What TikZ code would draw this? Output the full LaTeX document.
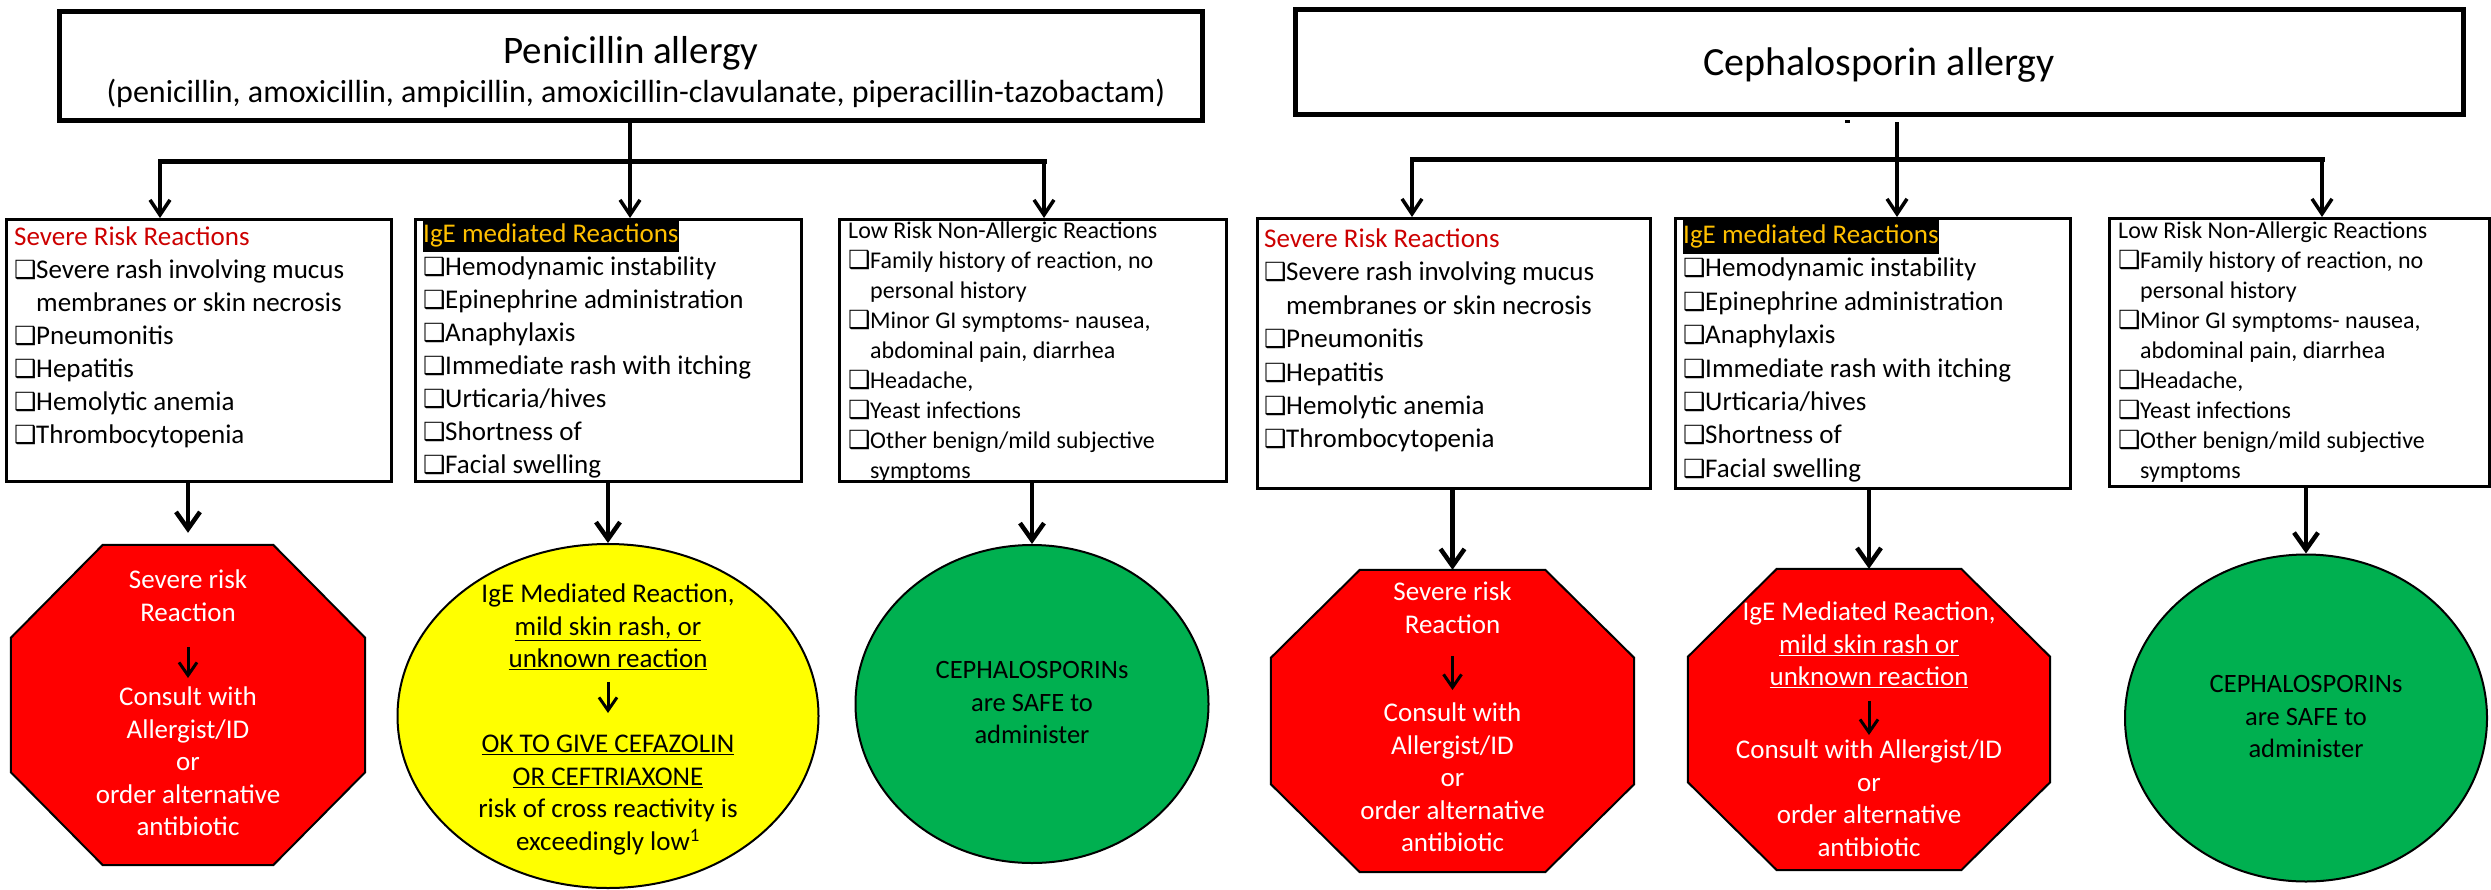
\documentclass[tikz,border=0pt]{standalone}
\usepackage{fontspec}
\setmainfont{Carlito}
\newfontfamily\dejavu{DejaVu Sans}
\usetikzlibrary{arrows.meta,shapes.geometric}
\definecolor{sevred}{RGB}{204,0,0}
\definecolor{igeorange}{RGB}{255,192,0}
\definecolor{octred}{RGB}{255,0,0}
\definecolor{ylw}{RGB}{255,255,0}
\definecolor{grn}{RGB}{0,176,80}
\setlength{\fboxsep}{0pt}
\newcommand\cbx{\makebox[22pt][l]{{\dejavu\fontsize{25}{25}\selectfont ❑}}}
\newcommand\ind{\hspace*{22pt}}
\newcommand\octo[3]{\draw[octline] ([xshift=#2]#1.north west) -- ([xshift=-#2]#1.north east) -- ([yshift=-#3]#1.north east) -- ([yshift=#3]#1.south east) -- ([xshift=-#2]#1.south east) -- ([xshift=#2]#1.south west) -- ([yshift=#3]#1.south west) -- ([yshift=-#3]#1.north west) -- cycle;}
\begin{document}
\begin{tikzpicture}[x=1pt,y=-1pt,
  hdr/.style={draw, line width=5pt, inner sep=0pt, anchor=north west},
  rbox/.style={draw, line width=2.5pt, inner sep=0pt, anchor=north west},
  lst/.style={anchor=north west, inner sep=0pt, align=left, font=\fontsize{27}{#1}\selectfont},
  lst/.default=33,
  lstlow/.style={anchor=north west, inner sep=0pt, align=left, font=\fontsize{24}{30}\selectfont},
  trunk/.style={line width=3.5pt},
  barline/.style={line width=5pt, line cap=rect},
  toparr/.style={line width=3.5pt, -{Straight Barb[length=15pt,width=20pt]}},
  botarr/.style={line width=4.5pt, -{Straight Barb[length=17pt,width=24pt]}},
  inarr/.style={line width=3pt, -{Straight Barb[length=13pt,width=18pt]}},
  octbox/.style={inner sep=0pt, draw=none},
  octline/.style={draw=black, line width=2pt, fill=octred, line join=miter},
  octtxt/.style={anchor=north, inner sep=0pt, align=center, text=white, font=\fontsize{27}{32.5}\selectfont},
  ellbox/.style={ellipse, draw=black, line width=2pt, inner sep=0pt},
  elltxt/.style={anchor=north, inner sep=0pt, align=center, text=black, font=\fontsize{27}{32.5}\selectfont},
  grntxt/.style={anchor=north, inner sep=0pt, align=center, text=black, font=\fontsize{26.5}{32.5}\selectfont}
]
\useasboundingbox (0,0) rectangle (2491,889);

% ---------- headers ----------
\node[hdr, minimum width=1143pt, minimum height=109pt] (pen) at (57,9) {};
\node[anchor=base, inner sep=0pt, font=\fontsize{39}{41}\selectfont] (pentitle) at (631,63) {Penicillin allergy};
\node[anchor=base, inner sep=0pt, font=\fontsize{32}{34}\selectfont] (pensub) at (636,102) {(penicillin, amoxicillin, ampicillin, amoxicillin-clavulanate, piperacillin-tazobactam)};

\node[hdr, minimum width=1168pt, minimum height=105pt] (ceph) at (1293,7) {};
\node[anchor=base, inner sep=0pt, font=\fontsize{40}{42}\selectfont] (cephtitle) at (1879,75) {Cephalosporin allergy};
\fill (1845,119.5) rectangle (1849.5,122.5);

% ---------- reaction boxes ----------
\node[rbox, minimum width=385pt, minimum height=262pt] (box1) at (5,218) {};
\node[rbox, minimum width=386pt, minimum height=262pt] (box2) at (414,218) {};
\node[rbox, minimum width=387pt, minimum height=262pt] (box3) at (838,218) {};
\node[rbox, minimum width=393pt, minimum height=270pt] (box4) at (1256,217) {};
\node[rbox, minimum width=395pt, minimum height=270pt] (box5) at (1674,217) {};
\node[rbox, minimum width=380pt, minimum height=268pt] (box6) at (2108,217) {};

\node[lst] (t1) at (14,222) {\strut\textcolor{sevred}{Severe Risk Reactions}\\
\cbx Severe rash involving mucus\\
\ind membranes or skin necrosis\\
\cbx Pneumonitis\\
\cbx Hepatitis\\
\cbx Hemolytic anemia\\
\cbx Thrombocytopenia};

\node[lst] (t2) at (423,219) {\colorbox{black}{\strut\textcolor{igeorange}{IgE mediated Reactions}}\\
\cbx Hemodynamic instability\\
\cbx Epinephrine administration\\
\cbx Anaphylaxis\\
\cbx Immediate rash with itching\\
\cbx Urticaria/hives\\
\cbx Shortness of\\
\cbx Facial swelling};

\node[lstlow] (t3) at (848,217) {\strut Low Risk Non-Allergic Reactions\\
\cbx Family history of reaction, no\\
\ind personal history\\
\cbx Minor GI symptoms- nausea,\\
\ind abdominal pain, diarrhea\\
\cbx Headache,\\
\cbx Yeast infections\\
\cbx Other benign/mild subjective\\
\ind symptoms};

\node[lst=33.4] (t4) at (1264,224) {\strut\textcolor{sevred}{Severe Risk Reactions}\\
\cbx Severe rash involving mucus\\
\ind membranes or skin necrosis\\
\cbx Pneumonitis\\
\cbx Hepatitis\\
\cbx Hemolytic anemia\\
\cbx Thrombocytopenia};

\node[lst=33.4] (t5) at (1683,220) {\colorbox{black}{\strut\textcolor{igeorange}{IgE mediated Reactions}}\\
\cbx Hemodynamic instability\\
\cbx Epinephrine administration\\
\cbx Anaphylaxis\\
\cbx Immediate rash with itching\\
\cbx Urticaria/hives\\
\cbx Shortness of\\
\cbx Facial swelling};

\node[lstlow] (t6) at (2118,217) {\strut Low Risk Non-Allergic Reactions\\
\cbx Family history of reaction, no\\
\ind personal history\\
\cbx Minor GI symptoms- nausea,\\
\ind abdominal pain, diarrhea\\
\cbx Headache,\\
\cbx Yeast infections\\
\cbx Other benign/mild subjective\\
\ind symptoms};

% ---------- top connectors ----------
\coordinate (pj) at (630,161);
\coordinate (pl) at (160,161);
\coordinate (pr) at (1044,161);
\draw[trunk] (pj |- pen.south) -- (pj);
\draw[barline] (pl) -- (pr);
\draw[toparr] (pl) -- (pl |- box1.north);
\draw[toparr] (pj) -- (pj |- box2.north);
\draw[toparr] (pr) -- (pr |- box3.north);

\coordinate (cs) at (1897,122);
\coordinate (cj) at (1897,159);
\coordinate (cl) at (1412,159);
\coordinate (cr) at (2322,159);
\draw[trunk] (cs) -- (cj);
\draw[barline] (cl) -- (cr);
\draw[toparr] (cl) -- (cl |- box4.north);
\draw[toparr] (cj) -- (cj |- box5.north);
\draw[toparr] (cr) -- (cr |- box6.north);

% ---------- bottom shapes ----------
\node[octbox, minimum width=354pt, minimum height=320pt] (oct1) at (188,705) {};
\octo{oct1}{92pt}{93pt}
\node[ellbox, fill=ylw, minimum width=421pt, minimum height=344pt] (yel) at (608,716) {};
\node[ellbox, fill=grn, minimum width=353pt, minimum height=318pt] (grn1) at (1032,704) {};
\node[octbox, minimum width=363pt, minimum height=302pt] (oct3) at (1452.5,721) {};
\octo{oct3}{89pt}{88pt}
\node[octbox, minimum width=362pt, minimum height=301pt] (oct4) at (1869,719.5) {};
\octo{oct4}{89pt}{88pt}
\node[ellbox, fill=grn, minimum width=362pt, minimum height=327pt] (grn2) at (2306,718) {};

% texts in shapes
\node[octtxt] (o1a) at (188,566) {\strut Severe risk\\ Reaction\strut};
\node[octtxt] (o1b) at (188,683) {\strut Consult with\\ Allergist/ID\\ or\\ order alternative\\ antibiotic\strut};
\draw[inarr, shorten <=16pt, shorten >=5pt] (o1a) -- (o1b);

\node[elltxt] (y1) at (608,580) {\strut IgE Mediated Reaction,\\ \underline{mild skin rash, or}\\ \underline{unknown reaction}\strut};
\node[elltxt] (y2) at (608,730) {\strut\underline{OK TO GIVE CEFAZOLIN}\\ \underline{OR CEFTRIAXONE}\\ risk of cross reactivity is\\ exceedingly low\textsuperscript{1}\strut};
\draw[inarr, shorten <=4pt, shorten >=17pt] (y1) -- (y2);

\node[grntxt] (g1) at (1032,656) {\strut CEPHALOSPORINs\\ are SAFE to\\ administer};

\node[octtxt] (o3a) at (1452.5,578) {\strut Severe risk\\ Reaction\strut};
\node[octtxt] (o3b) at (1452.5,699) {\strut Consult with\\ Allergist/ID\\ or\\ order alternative\\ antibiotic\strut};
\draw[inarr, shorten <=13pt, shorten >=9pt] (o3a) -- (o3b);

\node[octtxt] (o4a) at (1869,598) {\strut IgE Mediated Reaction,\\ \underline{mild skin rash or}\\ \underline{unknown reaction}\strut};
\node[octtxt] (o4b) at (1869,736) {\strut Consult with Allergist/ID\\ or\\ order alternative\\ antibiotic\strut};
\draw[inarr, shorten <=5pt, shorten >=1pt] (o4a) -- (o4b);

\node[grntxt] (g2) at (2306,670) {\strut CEPHALOSPORINs\\ are SAFE to\\ administer};

% ---------- arrows from boxes to shapes ----------
\draw[botarr, shorten >=12pt] (oct1.north |- box1.south) -- (oct1.north);
\draw[botarr] (yel.north |- box2.south) -- (yel.north);
\draw[botarr] (grn1.north |- box3.south) -- (grn1.north);
\draw[botarr] (oct3.north |- box4.south) -- (oct3.north);
\draw[botarr] (oct4.north |- box5.south) -- (oct4.north);
\draw[botarr] (grn2.north |- box6.south) -- (grn2.north);
\end{tikzpicture}
\end{document}
